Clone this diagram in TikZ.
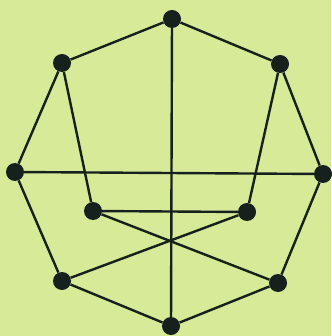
\documentclass[tikz,border=0pt]{standalone}
\definecolor{bg}{RGB}{214,234,152}
\definecolor{ink}{RGB}{22,32,28}
\begin{document}
\begin{tikzpicture}[x=1pt,y=-1pt,
  vtx/.style={circle,fill=ink,minimum size=18pt,inner sep=0pt},
  edge/.style={draw=ink,line width=2.4pt}]
\fill[bg] (0,0) rectangle (331,336);
\useasboundingbox (0,0) rectangle (331,336);
\node[vtx] (t) at (172,19) {};
\node[vtx] (ul) at (62,63) {};
\node[vtx] (ur) at (280,64) {};
\node[vtx] (l) at (15,172) {};
\node[vtx] (r) at (323,174) {};
\node[vtx] (il) at (93,211) {};
\node[vtx] (ir) at (247,212) {};
\node[vtx] (ll) at (62,281) {};
\node[vtx] (lr) at (278,283) {};
\node[vtx] (b) at (171,326) {};
\path[edge] (t) -- (ul);
\path[edge] (t) -- (ur);
\path[edge] (t) -- (b);
\path[edge] (ul) -- (l);
\path[edge] (ul) -- (il);
\path[edge] (ur) -- (r);
\path[edge] (ur) -- (ir);
\path[edge] (l) -- (r);
\path[edge] (l) -- (ll);
\path[edge] (r) -- (lr);
\path[edge] (il) -- (ir);
\path[edge] (il) -- (lr);
\path[edge] (ir) -- (ll);
\path[edge] (ll) -- (b);
\path[edge] (lr) -- (b);
\end{tikzpicture}
\end{document}
